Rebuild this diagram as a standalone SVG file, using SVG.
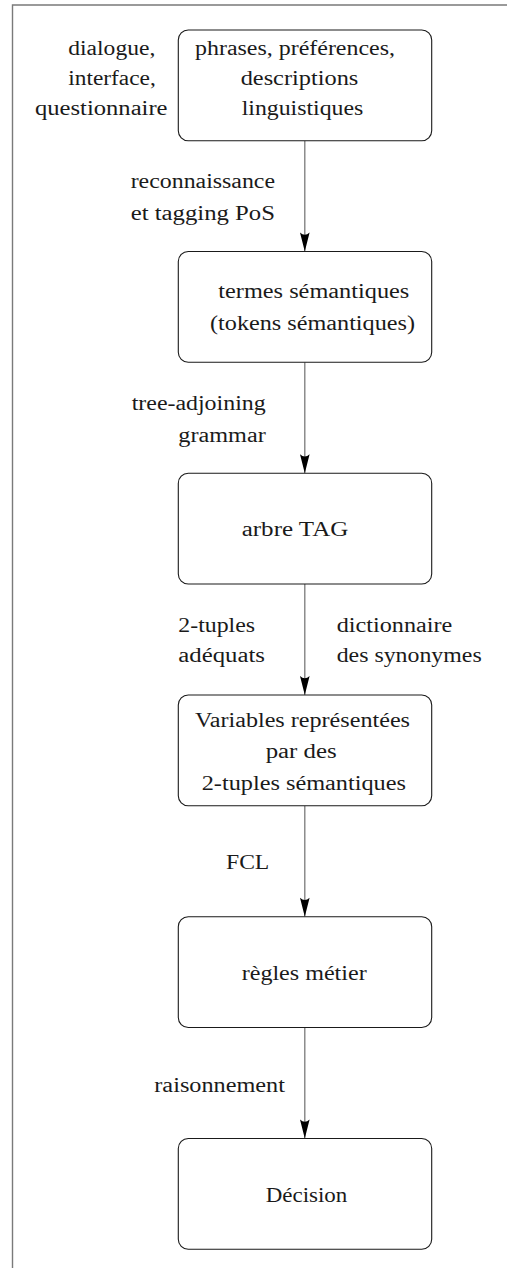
<svg xmlns="http://www.w3.org/2000/svg" width="507" height="1268" viewBox="0 0 507 1268">
<style>
  text { font-family: "Liberation Serif", "DejaVu Serif", "Times New Roman", serif; font-size: 20px; fill: #1a1a1a; }
  .box { fill: #ffffff; stroke: #1a1a1a; stroke-width: 1.1; }
  .edge { stroke: #7a7a7a; stroke-width: 1.3; fill: none; }
  .frame { stroke: #7a7a7a; stroke-width: 1.4; fill: none; }
</style>
<defs>
  <marker id="head" viewBox="-21 -6 22 12" refX="0" refY="0" markerWidth="22" markerHeight="12" markerUnits="userSpaceOnUse" orient="auto">
    <path d="M0,0 L-19,-4.8 Q-14.5,0 -19,4.8 Z" fill="#000000"/>
  </marker>
</defs>
<rect width="507" height="1268" fill="#ffffff"/>
<path class="frame" d="M12.5,1268 L12.5,5 L507,5"/>

<g id="connectors">
  <line class="edge" x1="304.8" y1="140.7" x2="304.8" y2="251.5" marker-end="url(#head)"/>
  <line class="edge" x1="304.8" y1="362.2" x2="304.8" y2="473.3" marker-end="url(#head)"/>
  <line class="edge" x1="304.8" y1="584" x2="304.8" y2="695" marker-end="url(#head)"/>
  <line class="edge" x1="304.8" y1="805.7" x2="304.8" y2="916.8" marker-end="url(#head)"/>
  <line class="edge" x1="304.8" y1="1027.5" x2="304.8" y2="1138.5" marker-end="url(#head)"/>
</g>

<g id="label-source">
  <text x="68.3" y="54.5" textLength="87" lengthAdjust="spacingAndGlyphs">dialogue,</text>
  <text x="68.3" y="84.5" textLength="87.5" lengthAdjust="spacingAndGlyphs">interface,</text>
  <text x="35" y="114.5" textLength="132.5" lengthAdjust="spacingAndGlyphs">questionnaire</text>
</g>

<g id="node-phrases">
  <rect class="box" x="178.3" y="30" width="253.4" height="110.7" rx="10"/>
  <text x="195" y="55" textLength="200" lengthAdjust="spacingAndGlyphs">phrases, préférences,</text>
  <text x="240.7" y="85" textLength="117.6" lengthAdjust="spacingAndGlyphs">descriptions</text>
  <text x="241.7" y="115" textLength="121.6" lengthAdjust="spacingAndGlyphs">linguistiques</text>
</g>

<g id="label-reconnaissance">
  <text x="130.7" y="188.3" textLength="144.3" lengthAdjust="spacingAndGlyphs">reconnaissance</text>
  <text x="130.7" y="220" textLength="144.3" lengthAdjust="spacingAndGlyphs">et tagging PoS</text>
</g>

<g id="node-termes">
  <rect class="box" x="178.3" y="251.5" width="253.4" height="110.7" rx="10"/>
  <text x="218.3" y="298" textLength="191" lengthAdjust="spacingAndGlyphs">termes sémantiques</text>
  <text x="210" y="330" textLength="205" lengthAdjust="spacingAndGlyphs">(tokens sémantiques)</text>
</g>

<g id="label-tag">
  <text x="131.7" y="409.5" textLength="134" lengthAdjust="spacingAndGlyphs">tree-adjoining</text>
  <text x="178.3" y="441.7" textLength="87.4" lengthAdjust="spacingAndGlyphs">grammar</text>
</g>

<g id="node-arbre">
  <rect class="box" x="178.3" y="473.3" width="253.4" height="110.7" rx="10"/>
  <text x="241.7" y="536.3" textLength="106.6" lengthAdjust="spacingAndGlyphs">arbre TAG</text>
</g>

<g id="label-tuples">
  <text x="178.3" y="632" textLength="76.7" lengthAdjust="spacingAndGlyphs">2-tuples</text>
  <text x="178.3" y="662" textLength="86.7" lengthAdjust="spacingAndGlyphs">adéquats</text>
</g>

<g id="label-dictionnaire">
  <text x="336.7" y="632" textLength="115.6" lengthAdjust="spacingAndGlyphs">dictionnaire</text>
  <text x="336.7" y="662" textLength="145" lengthAdjust="spacingAndGlyphs">des synonymes</text>
</g>

<g id="node-variables">
  <rect class="box" x="178.3" y="695" width="253.4" height="110.7" rx="10"/>
  <text x="195" y="726.7" textLength="215" lengthAdjust="spacingAndGlyphs">Variables représentées</text>
  <text x="265.7" y="758" textLength="71" lengthAdjust="spacingAndGlyphs">par des</text>
  <text x="201.7" y="790" textLength="204.3" lengthAdjust="spacingAndGlyphs">2-tuples sémantiques</text>
</g>

<g id="label-fcl">
  <text x="226" y="869.3" textLength="43.3" lengthAdjust="spacingAndGlyphs">FCL</text>
</g>

<g id="node-regles">
  <rect class="box" x="178.3" y="916.8" width="253.4" height="110.7" rx="10"/>
  <text x="241.7" y="980" textLength="125" lengthAdjust="spacingAndGlyphs">règles métier</text>
</g>

<g id="label-raisonnement">
  <text x="154.3" y="1091.7" textLength="130.7" lengthAdjust="spacingAndGlyphs">raisonnement</text>
</g>

<g id="node-decision">
  <rect class="box" x="178.3" y="1138.5" width="253.4" height="110.7" rx="10"/>
  <text x="265.7" y="1202.3" textLength="81.6" lengthAdjust="spacingAndGlyphs">Décision</text>
</g>
</svg>
